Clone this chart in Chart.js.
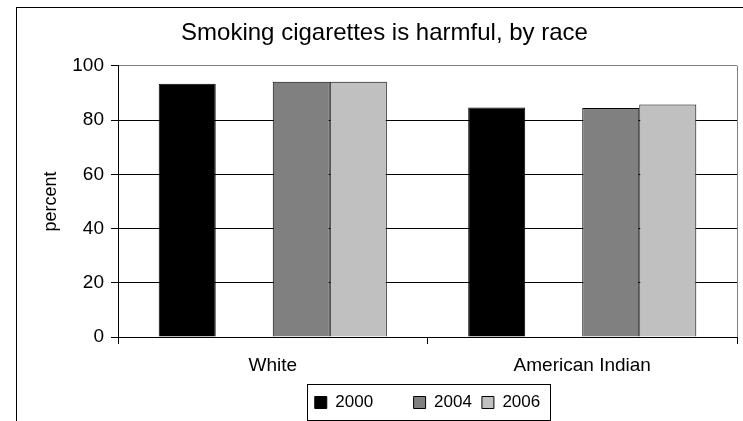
<!DOCTYPE html>
<html>
<head>
<meta charset="utf-8">
<script src="https://cdn.jsdelivr.net/npm/chart.js@4.4.0/dist/chart.umd.min.js"></script>
<style>
    html, body { margin: 0; padding: 0; background: #fff; }
    #wrap { width: 743px; height: 421px; }
</style>
</head>
<body>
<div id="wrap"><canvas id="myChart" width="743" height="421"></canvas></div>
<script>
// chart values
const categories = ['White', 'American Indian']
const seriesNames = ['2000', '', '2004', '2006'] // blank slot kept as in the original legend
const values2000 = [93.4, 84.6]
const values2002 = [null, null]
const values2004 = [94.1, 84.4]
const values2006 = [94.1, 85.7]
const yTicks = [0, 20, 40, 60, 80, 100]

const FONT = "'Liberation Sans', Arial, sans-serif"
const colors = ['#000000', 'rgba(0,0,0,0)', '#808080', '#c0c0c0']

// outer frame, right border of the plot and box around the legend
const framePlugin = {
    id: 'frame',
    afterUpdate(chart) {
        // legend sits under the middle of the plot, not the middle of the canvas
        let lg = chart.legend
        let a = chart.chartArea
        let dx = (a.left + a.right) / 2 - (lg.left + lg.right) / 2
        lg.left += dx
        lg.right += dx
        lg.legendHitBoxes.forEach(b => { b.left += dx })
    },
    beforeDraw(chart) {
        const ctx = chart.ctx
        ctx.save()
        ctx.fillStyle = '#fff'
        ctx.fillRect(0, 0, chart.width, chart.height)
        ctx.strokeStyle = '#000'
        ctx.lineWidth = 1
        ctx.strokeRect(16.5, 7.5, chart.width + 20, chart.height + 20)
        ctx.restore()
    },
    afterDraw(chart) {
        const ctx = chart.ctx
        const area = chart.chartArea
        ctx.save()
        ctx.strokeStyle = '#808080'
        ctx.lineWidth = 1
        ctx.beginPath()
        ctx.moveTo(Math.round(area.right) + 0.5, area.top)
        ctx.lineTo(Math.round(area.right) + 0.5, area.bottom)
        ctx.stroke()

        let boxes = chart.legend.legendHitBoxes
        if (boxes && boxes.length) {
            let left = Math.min(...boxes.map(b => b.left))
            let right = Math.max(...boxes.map(b => b.left + b.width))
            let top = boxes[0].top
            let h = boxes[0].height
            ctx.strokeStyle = '#000'
            ctx.strokeRect(Math.round(left - 8) + 0.5, Math.round(top - 10) + 0.5,
                Math.round(right - left + 18), Math.round(h + 19))
        }
        ctx.restore()
    }
}

const ctx = document.getElementById('myChart').getContext('2d')
new Chart(ctx, {
    type: 'bar',
    data: {
        labels: categories,
        datasets: [values2000, values2002, values2004, values2006].map((vals, i) => ({
            label: seriesNames[i],
            data: vals,
            backgroundColor: colors[i],
            borderColor: i === 1 ? 'rgba(0,0,0,0)' : '#000',
            borderWidth: 1,
            borderSkipped: 'bottom',
            categoryPercentage: 0.737,
            barPercentage: 1.0
        }))
    },
    options: {
        responsive: false,
        animation: false,
        layout: { padding: { left: 32, right: 6, top: 0, bottom: 0 } },
        scales: {
            x: {
                grid: {
                    offset: true,
                    drawOnChartArea: false,
                    drawTicks: true,
                    tickLength: 7,
                    color: '#000'
                },
                border: { color: '#000', width: 1 },
                ticks: {
                    color: '#000',
                    padding: 10,
                    font: { family: FONT, size: 19 }
                },
                afterFit: function (scale) { scale.height = 47 }
            },
            y: {
                min: 0,
                max: 100,
                afterBuildTicks: function (scale) {
                    scale.ticks = yTicks.map(v => ({ value: v }))
                },
                grid: {
                    color: function (c) { return c.tick && c.tick.value === 100 ? '#808080' : '#000' },
                    tickColor: '#000',
                    tickLength: 7
                },
                border: { color: '#000', width: 1 },
                ticks: {
                    color: '#000',
                    padding: 7,
                    font: { family: FONT, size: 19 }
                },
                title: {
                    display: true,
                    text: 'percent',
                    color: '#000',
                    padding: { top: 8, bottom: 0 },
                    font: { family: FONT, size: 18 }
                },
                afterFit: function (scale) { scale.width = 86 }
            }
        },
        plugins: {
            title: {
                display: true,
                text: 'Smoking cigarettes is harmful, by race',
                color: '#000',
                padding: { top: 19, bottom: 18 },
                font: { family: FONT, size: 24, weight: 'normal' }
            },
            legend: {
                position: 'bottom',
                labels: {
                    color: '#000',
                    boxWidth: 12,
                    boxHeight: 12,
                    padding: 10,
                    font: { family: FONT, size: 17 },
                    generateLabels: function (chart) {
                        return chart.data.datasets.map((ds, i) => ({
                            text: ds.label,
                            fillStyle: ds.backgroundColor,
                            strokeStyle: i === 1 ? 'rgba(0,0,0,0)' : '#000',
                            lineWidth: 1,
                            fontColor: '#000',
                            hidden: false,
                            datasetIndex: i
                        }))
                    }
                }
            },
            tooltip: { enabled: false }
        }
    },
    plugins: [framePlugin]
})
</script>
</body>
</html>
